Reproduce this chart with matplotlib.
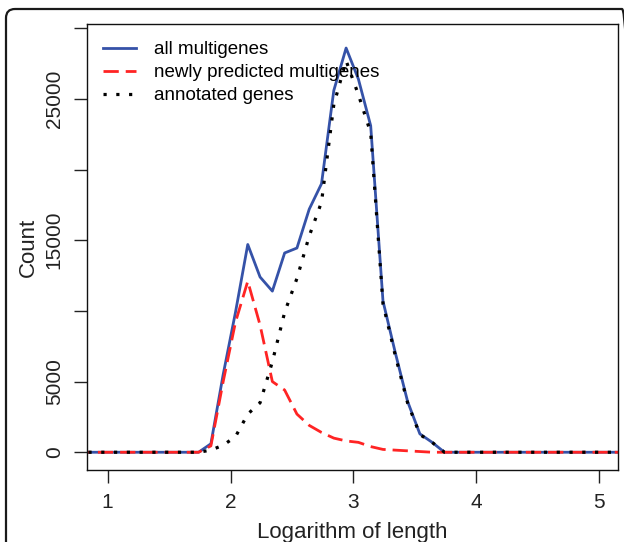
import numpy as np
import matplotlib
matplotlib.use("Agg")
import matplotlib.pyplot as plt
from matplotlib.patches import FancyBboxPatch

plt.rcParams['font.family'] = ['Liberation Sans', 'DejaVu Sans']

# bin centres (log10 of length) and counts
log_len = [0.74, 0.84, 0.94, 1.04, 1.14, 1.24, 1.34, 1.44, 1.54, 1.64,
           1.74, 1.84, 1.94, 2.04, 2.14, 2.24, 2.34, 2.44, 2.54, 2.64,
           2.74, 2.84, 2.94, 3.04, 3.14, 3.24, 3.34, 3.44, 3.54, 3.64,
           3.74, 3.84, 3.94, 4.04, 4.14, 4.24, 4.34, 4.44, 4.54, 4.64,
           4.74, 4.84, 4.94, 5.04, 5.14, 5.24]
zeros_lo = [0] * 10
zeros_hi = [0] * 16
all_multi = zeros_lo + [0, 600, 5500, 9900, 14700, 12400, 11400, 14100, 14450, 17200,
                        19000, 25600, 28600, 26400, 23100, 10700, 7050, 3600, 1300, 700] + zeros_hi
new_multi = zeros_lo + [0, 450, 5000, 9200, 12100, 9000, 5000, 4400, 2700, 1900,
                        1400, 1000, 800, 700, 400, 200, 150, 100, 50, 0] + zeros_hi
annotated = zeros_lo + [0, 150, 500, 1100, 2700, 3500, 6400, 9900, 12300, 15300,
                        17700, 24600, 27700, 25300, 22600, 10500, 6850, 3500, 1250, 700] + zeros_hi

series_names = ["all multigenes", "newly predicted multigenes", "annotated genes"]
y_ticks = [0, 5000, 10000, 15000, 20000, 25000, 30000]
y_labels = ["0", "5000", "", "15000", "", "25000", ""]
x_ticks = [1, 2, 3, 4, 5]

fig = plt.figure(figsize=(6.24, 5.42), dpi=100)

# rounded outer frame, partly cut by the image edge
frame = FancyBboxPatch((0.06, -0.3), 6.25, 5.3 + 0.3 - 0.03 + 0.06,
                       boxstyle="round,pad=0,rounding_size=0.09",
                       transform=fig.dpi_scale_trans, fill=False,
                       edgecolor='#1a1a1a', linewidth=1.6)
fig.patches.append(frame)

ax = fig.add_axes([0.139, 0.133, 0.852, 0.8227])

ax.plot(log_len, all_multi, color='#3552a8', lw=2.0, label=series_names[0])
ax.plot(log_len, new_multi, color='#ff2424', lw=2.0, ls=(0, (5.5, 2.5)), label=series_names[1])
ax.plot(log_len, annotated, color='black', lw=2.3, ls=(0, (1, 3)), label=series_names[2])

ax.set_xlim(0.83, 5.155)
ax.set_ylim(-1250, 30300)

ax.set_xticks(x_ticks)
ax.set_yticks(y_ticks)
ax.set_yticklabels(y_labels, rotation=90, va='center')
ax.tick_params(axis='both', length=9.6, width=1.0, color='#222222',
               labelsize=15, labelcolor='#222222', pad=7)

for s in ax.spines.values():
    s.set_linewidth(1.0)
    s.set_color('#111111')

ax.text(0.5, -0.1525, "Logarithm of length", transform=ax.transAxes,
        ha='center', va='baseline', fontsize=16, color='#222222')
ax.text(-0.11, 0.5, "Count", transform=ax.transAxes, rotation=90,
        ha='center', va='center', fontsize=16, color='#222222')

ax.legend(loc='upper left', bbox_to_anchor=(0.03, 0.962), frameon=False,
          fontsize=13.5, handlelength=1.8, handletextpad=0.95,
          labelspacing=0.32, borderpad=0, borderaxespad=0)

fig.savefig("out.png", dpi=100)
